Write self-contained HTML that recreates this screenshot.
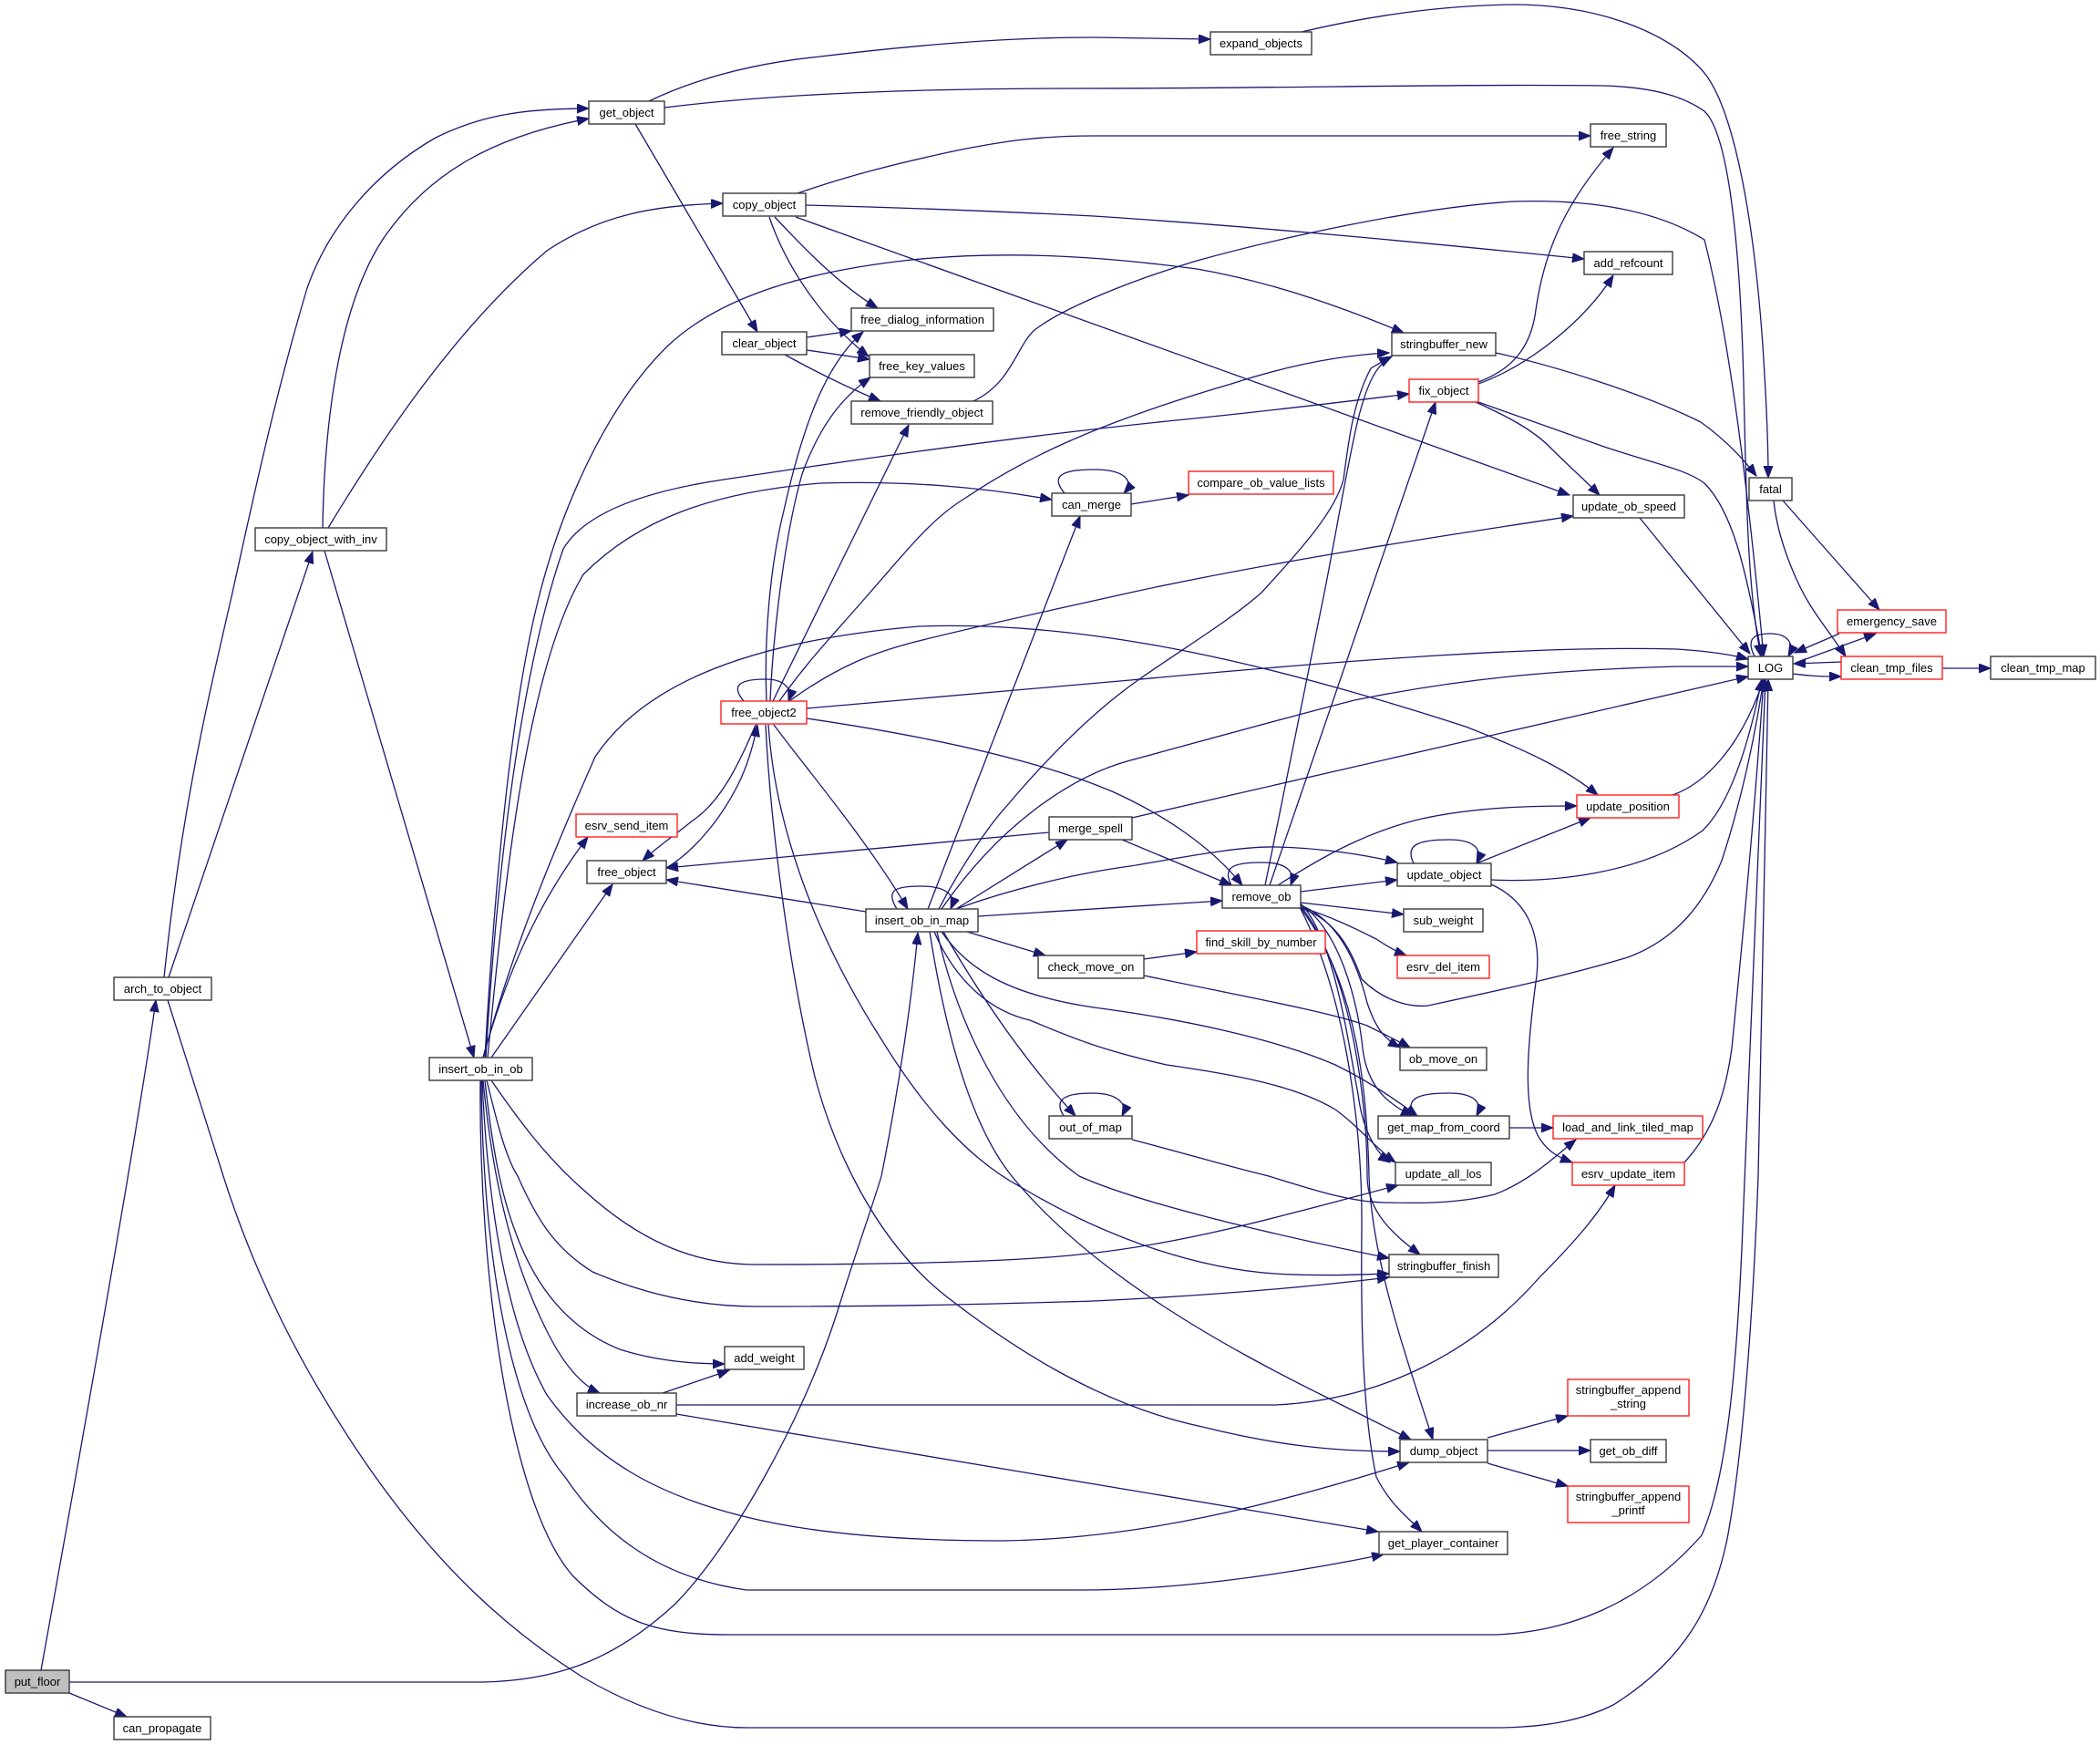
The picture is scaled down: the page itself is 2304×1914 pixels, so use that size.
<!DOCTYPE html>
<html><head><meta charset="utf-8"><style>
html,body{margin:0;padding:0;background:#fff;}
svg{display:block;}
.e path{fill:none;stroke:#191970;stroke-width:1.3;marker-end:url(#a);}
.n rect{fill:#fff;stroke:#3a3a3a;stroke-width:1.4;}
.n rect.r{stroke:#ff2020;}
.n rect.g{fill:#bfbfbf;}
.n text{font-family:"Liberation Sans",Arial,sans-serif;font-size:13px;fill:#000;text-anchor:middle;}
</style></head><body>
<svg width="2304" height="1914" viewBox="0 0 2304 1914" xmlns="http://www.w3.org/2000/svg">
<defs><marker id="a" markerWidth="14" markerHeight="11" refX="13" refY="5" orient="auto" markerUnits="userSpaceOnUse"><path d="M0,0 L13,5 L0,10 z" fill="#191970" stroke="#191970" stroke-width="1"/></marker></defs>
<rect width="2304" height="1914" fill="#fff"/>
<g class="e">
<path d="M45,1832 Q150,1250 171,1097"/>
<path d="M76,1857 L139,1883"/>
<path d="M76,1845 L530,1845 C620,1843 680,1815 740,1760 C800,1700 880,1560 918,1441 C940,1370 955,1330 967,1290 C985,1200 1000,1100 1007,1023"/>
<path d="M180,1072 C200,880 230,760 255,650 C275,560 300,440 337,316 C360,250 410,190 478,151 C530,125 580,119 646,119"/>
<path d="M185,1072 L343,605"/>
<path d="M184,1097 L245,1290 C280,1400 330,1500 398,1600 C480,1720 560,1790 640,1840 C700,1875 760,1895 820,1895 L1640,1895 C1700,1895 1740,1885 1770,1870 C1850,1820 1880,1760 1895,1688 C1915,1580 1925,1400 1929,1290 C1933,1100 1937,900 1940,745"/>
<path d="M354,579 C356,450 375,330 421,261 C470,190 540,150 646,130"/>
<path d="M360,579 C420,480 500,360 600,275 C660,235 720,225 793,223"/>
<path d="M356,604 L520,1160"/>
<path d="M712,111 C760,88 820,70 900,62 C1000,50 1100,41 1200,41 L1328,43"/>
<path d="M729,118 C850,103 1000,97 1180,97 C1400,97 1600,92 1760,94 C1820,96 1850,108 1870,122 C1900,150 1910,300 1913,420 C1916,560 1918,650 1932,720"/>
<path d="M697,136 L831,364"/>
<path d="M1428,35 C1500,18 1580,6 1660,5 C1760,5 1840,40 1873,84 C1905,130 1925,250 1934,379 C1938,440 1940,490 1940,524"/>
<path d="M875,212 C930,193 980,180 1050,165 C1100,155 1140,149 1200,149 L1745,149"/>
<path d="M884,225 C1000,228 1100,232 1200,237 C1400,250 1600,270 1738,284"/>
<path d="M873,238 L1722,543"/>
<path d="M850,238 C880,270 920,312 963,338"/>
<path d="M844,238 C860,285 895,345 953,391"/>
<path d="M885,370 L934,363"/>
<path d="M885,384 L954,394"/>
<path d="M861,389 C890,405 930,425 966,440"/>
<path d="M1068,440 C1110,420 1115,380 1135,362 C1170,335 1250,305 1313,286 C1400,262 1550,228 1660,221 C1750,218 1820,232 1870,263 C1900,380 1920,560 1935,720"/>
<path d="M1641,387 C1700,400 1800,430 1866,463 C1890,480 1910,500 1927,522"/>
<path d="M1622,419 C1660,405 1680,380 1685,340 C1695,270 1720,220 1770,162"/>
<path d="M1622,421 C1680,400 1740,350 1770,302"/>
<path d="M1619,441 C1650,455 1680,470 1700,490 C1720,510 1740,528 1755,543"/>
<path d="M1622,441 L1760,490 C1820,510 1850,515 1870,530 C1900,560 1915,620 1933,720"/>
<path d="M1799,568 L1920,717"/>
<path d="M1956,549 L2062,669"/>
<path d="M1946,549 C1950,590 1970,640 1990,670 C2005,692 2015,705 2025,720"/>
<path d="M1925,720 C1915,700 1925,695 1942,695 C1960,695 1970,705 1962,720"/>
<path d="M2018,695 L1969,716"/>
<path d="M1970,727 L2058,695"/>
<path d="M2020,726 L1968,728"/>
<path d="M1967,739 C1990,742 2000,742 2020,742"/>
<path d="M2131,733 L2184,733"/>
<path d="M1168,541 C1150,520 1170,515 1200,515 C1235,515 1245,528 1233,541"/>
<path d="M1241,553 L1304,543"/>
<path d="M532,1160 C542,980 560,780 590,660 C612,570 660,450 733,379 C780,335 860,300 1000,285 C1100,275 1200,280 1313,295 C1400,310 1480,340 1540,365"/>
<path d="M533,1160 C545,960 570,740 618,602 C640,565 700,540 794,526 C900,510 1100,480 1300,460 C1400,450 1480,440 1546,432"/>
<path d="M535,1160 C555,950 580,730 640,630 C700,570 780,540 900,530 C1000,527 1080,535 1154,548"/>
<path d="M530,1160 C560,1050 600,950 653,830 C700,760 800,705 1008,687 C1200,680 1404,731 1608,797 C1680,825 1720,845 1753,872"/>
<path d="M530,1160 C555,1070 590,990 645,918"/>
<path d="M539,1160 L672,970"/>
<path d="M539,1185 C570,1230 600,1270 640,1305 C700,1360 760,1387 830,1387 C950,1387 1100,1385 1184,1376 C1300,1365 1420,1330 1534,1300"/>
<path d="M534,1185 C545,1230 555,1270 568,1290 C590,1340 610,1370 650,1395 C720,1425 780,1433 830,1433 C1000,1433 1100,1430 1200,1427 C1350,1420 1450,1410 1524,1401"/>
<path d="M532,1185 C540,1260 550,1310 565,1350 C590,1420 630,1460 680,1480 C720,1493 760,1496 795,1496"/>
<path d="M530,1185 C540,1290 560,1380 600,1460 C620,1500 640,1520 658,1528"/>
<path d="M529,1185 C535,1320 555,1450 600,1530 C650,1600 720,1640 819,1664 C900,1684 1000,1690 1100,1690 C1250,1688 1400,1650 1546,1604"/>
<path d="M528,1185 C530,1380 560,1550 620,1620 C660,1680 720,1730 819,1744 L1184,1744 C1300,1744 1420,1725 1518,1705"/>
<path d="M527,1185 C525,1400 560,1650 628,1728 C680,1780 720,1793 800,1793 L1640,1793 C1720,1790 1800,1760 1867,1684 C1895,1620 1905,1500 1911,1370 C1920,1150 1930,900 1937,745"/>
<path d="M727,1528 L800,1503"/>
<path d="M742,1541 L1400,1541 C1520,1535 1620,1480 1690,1400 C1730,1360 1755,1330 1772,1300"/>
<path d="M742,1551 L1512,1680"/>
<path d="M829,795 C810,840 790,880 760,900 C735,920 720,930 705,944"/>
<path d="M731,952 C760,935 790,900 810,860 C820,840 826,820 831,795"/>
<path d="M816,769 C800,750 815,745 840,745 C860,745 870,755 865,769"/>
<path d="M841,769 C838,700 845,620 860,560 C880,470 905,400 947,364"/>
<path d="M845,769 C848,700 860,590 880,520 C900,465 925,435 955,414"/>
<path d="M848,769 L997,466"/>
<path d="M855,769 C890,720 920,690 950,655 C990,610 1020,570 1058,547 C1120,505 1200,465 1351,421 C1400,405 1460,390 1524,387"/>
<path d="M866,769 C920,730 960,715 1008,703 C1080,685 1160,668 1240,650 C1400,615 1600,585 1726,566"/>
<path d="M885,777 L1240,746 C1500,722 1700,708 1840,712 C1870,714 1900,718 1918,723"/>
<path d="M885,788 C1000,805 1130,830 1220,868 C1280,895 1330,930 1363,971"/>
<path d="M849,795 C890,850 950,920 996,997"/>
<path d="M843,795 C850,900 890,1020 967,1140 C1010,1210 1060,1270 1120,1302 C1200,1350 1300,1390 1398,1397 C1450,1400 1490,1398 1524,1397"/>
<path d="M840,795 C845,900 865,1060 894,1181 C915,1260 960,1360 1037,1421 C1100,1470 1200,1540 1319,1565 C1400,1585 1460,1592 1536,1592"/>
<path d="M984,997 C970,975 985,972 1010,972 C1035,972 1050,980 1043,997"/>
<path d="M950,1000 L731,965"/>
<path d="M1018,997 L1185,566"/>
<path d="M1030,997 C1060,940 1090,900 1102,887 C1150,830 1200,780 1250,745 C1300,710 1350,680 1384,650 C1430,600 1465,560 1474,526 C1480,480 1485,440 1504,404 L1526,391"/>
<path d="M1033,997 C1100,900 1180,850 1240,834 C1300,818 1400,790 1486,768 C1600,745 1700,735 1840,731 L1918,731"/>
<path d="M1049,997 L1171,921"/>
<path d="M1049,997 C1110,975 1180,958 1240,950 C1300,940 1360,928 1400,929 C1450,930 1500,938 1533,946"/>
<path d="M1073,1005 L1341,988"/>
<path d="M1061,1022 L1147,1048"/>
<path d="M1033,1022 C1060,1060 1100,1090 1200,1105 C1300,1118 1400,1140 1465,1168 C1500,1185 1530,1205 1555,1224"/>
<path d="M1025,1022 C1050,1080 1090,1110 1130,1119 C1180,1140 1210,1152 1280,1168 C1350,1178 1420,1190 1465,1217 C1490,1235 1510,1260 1531,1275"/>
<path d="M1035,1022 C1080,1100 1130,1170 1180,1224"/>
<path d="M1028,1022 C1050,1120 1100,1230 1184,1290 C1250,1320 1400,1355 1524,1380"/>
<path d="M1020,1022 C1040,1150 1070,1240 1110,1290 C1200,1400 1350,1480 1450,1530 C1500,1555 1530,1570 1548,1579"/>
<path d="M1151,913 L731,952"/>
<path d="M1242,897 L1918,742"/>
<path d="M1231,921 L1351,971"/>
<path d="M1351,971 C1340,950 1355,946 1385,946 C1410,946 1422,955 1416,971"/>
<path d="M1427,978 L1533,965"/>
<path d="M1402,971 C1450,940 1500,912 1560,898 C1620,885 1680,884 1730,884"/>
<path d="M1427,990 L1540,1003"/>
<path d="M1427,995 C1460,1005 1490,1020 1510,1030 C1525,1040 1535,1045 1543,1048"/>
<path d="M1427,996 C1470,1010 1485,1050 1494,1074 C1520,1100 1550,1105 1567,1103 C1650,1085 1720,1070 1786,1050 C1840,1030 1870,990 1889,944 C1910,880 1925,810 1935,745"/>
<path d="M1427,993 C1470,1010 1490,1060 1500,1100 C1510,1130 1520,1140 1536,1149"/>
<path d="M1427,992 C1470,1020 1490,1100 1495,1150 C1500,1190 1520,1210 1550,1224"/>
<path d="M1427,991 C1465,1030 1480,1150 1490,1200 C1495,1240 1510,1265 1525,1275"/>
<path d="M1427,994 C1480,1060 1500,1200 1500,1290 C1500,1330 1530,1355 1558,1376"/>
<path d="M1427,996 C1490,1080 1500,1200 1502,1290 C1505,1380 1540,1480 1572,1579"/>
<path d="M1427,997 C1480,1100 1495,1250 1494,1350 C1493,1450 1495,1550 1510,1620 C1525,1650 1545,1665 1560,1680"/>
<path d="M1393,971 L1575,441"/>
<path d="M1388,971 L1453,650 C1465,590 1478,510 1490,460 C1500,420 1510,400 1527,391"/>
<path d="M1551,947 C1540,925 1560,921 1590,921 C1615,921 1628,930 1620,947"/>
<path d="M1620,947 L1745,897"/>
<path d="M1636,965 C1700,968 1800,960 1868,911 C1900,880 1920,810 1933,745"/>
<path d="M1636,970 C1680,990 1690,1030 1686,1070 C1675,1150 1670,1220 1690,1250 C1700,1265 1712,1270 1725,1275"/>
<path d="M1835,872 C1870,860 1910,820 1935,745"/>
<path d="M1255,1052 L1313,1044"/>
<path d="M1255,1070 C1350,1090 1460,1110 1500,1125 C1520,1135 1540,1145 1547,1149"/>
<path d="M1167,1224 C1155,1205 1170,1199 1198,1199 C1225,1199 1238,1210 1231,1224"/>
<path d="M1242,1250 C1300,1265 1350,1280 1392,1290 C1440,1305 1480,1318 1518,1319 C1560,1320 1600,1320 1640,1310 C1680,1295 1710,1265 1729,1250"/>
<path d="M1551,1224 C1540,1203 1560,1199 1590,1199 C1615,1199 1628,1208 1620,1224"/>
<path d="M1656,1237 L1704,1237"/>
<path d="M1848,1275 C1880,1240 1893,1200 1900,1150 C1915,1000 1928,850 1935,745"/>
<path d="M1632,1577 L1720,1553"/>
<path d="M1632,1591 L1745,1591"/>
<path d="M1632,1605 L1720,1630"/>
</g>
<g class="n">
<rect class="g" x="6" y="1832" width="70" height="25"/><text x="41" y="1849">put_floor</text>
<rect x="125" y="1883" width="106" height="25"/><text x="178" y="1900">can_propagate</text>
<rect x="125" y="1072" width="107" height="25"/><text x="178.5" y="1089">arch_to_object</text>
<rect x="280" y="579" width="144" height="25"/><text x="352" y="596">copy_object_with_inv</text>
<rect x="646" y="111" width="83" height="25"/><text x="687.5" y="128">get_object</text>
<rect x="793" y="212" width="91" height="25"/><text x="838.5" y="229">copy_object</text>
<rect x="792" y="364" width="93" height="25"/><text x="838.5" y="381">clear_object</text>
<rect x="934" y="338" width="156" height="25"/><text x="1012" y="355">free_dialog_information</text>
<rect x="954" y="389" width="115" height="25"/><text x="1011.5" y="406">free_key_values</text>
<rect x="934" y="440" width="155" height="25"/><text x="1011.5" y="457">remove_friendly_object</text>
<rect x="1328" y="35" width="111" height="25"/><text x="1383.5" y="52">expand_objects</text>
<rect x="1745" y="136" width="83" height="25"/><text x="1786.5" y="153">free_string</text>
<rect x="1738" y="276" width="97" height="25"/><text x="1786.5" y="293">add_refcount</text>
<rect x="1527" y="365" width="114" height="25"/><text x="1584" y="382">stringbuffer_new</text>
<rect class="r" x="1546" y="416" width="76" height="25"/><text x="1584" y="433">fix_object</text>
<rect x="1154" y="541" width="87" height="25"/><text x="1197.5" y="558">can_merge</text>
<rect class="r" x="1304" y="517" width="159" height="25"/><text x="1383.5" y="534">compare_ob_value_lists</text>
<rect x="1726" y="543" width="122" height="25"/><text x="1787" y="560">update_ob_speed</text>
<rect x="1919" y="524" width="47" height="25"/><text x="1942.5" y="541">fatal</text>
<rect x="1918" y="720" width="49" height="25"/><text x="1942.5" y="737">LOG</text>
<rect class="r" x="2016" y="669" width="119" height="25"/><text x="2075.5" y="686">emergency_save</text>
<rect class="r" x="2020" y="720" width="111" height="25"/><text x="2075.5" y="737">clean_tmp_files</text>
<rect x="2184" y="720" width="115" height="25"/><text x="2241.5" y="737">clean_tmp_map</text>
<rect class="r" x="791" y="769" width="94" height="25"/><text x="838" y="786">free_object2</text>
<rect class="r" x="632" y="893" width="111" height="25"/><text x="687.5" y="910">esrv_send_item</text>
<rect x="644" y="944" width="87" height="25"/><text x="687.5" y="961">free_object</text>
<rect x="471" y="1160" width="113" height="25"/><text x="527.5" y="1177">insert_ob_in_ob</text>
<rect x="950" y="997" width="123" height="25"/><text x="1011.5" y="1014">insert_ob_in_map</text>
<rect x="1151" y="896" width="91" height="25"/><text x="1196.5" y="913">merge_spell</text>
<rect x="1139" y="1048" width="116" height="25"/><text x="1197" y="1065">check_move_on</text>
<rect x="1151" y="1224" width="91" height="25"/><text x="1196.5" y="1241">out_of_map</text>
<rect x="1341" y="971" width="86" height="25"/><text x="1384" y="988">remove_ob</text>
<rect x="1533" y="947" width="103" height="25"/><text x="1584.5" y="964">update_object</text>
<rect x="1540" y="997" width="87" height="25"/><text x="1583.5" y="1014">sub_weight</text>
<rect class="r" x="1533" y="1048" width="101" height="25"/><text x="1583.5" y="1065">esrv_del_item</text>
<rect class="r" x="1313" y="1021" width="141" height="25"/><text x="1383.5" y="1038">find_skill_by_number</text>
<rect class="r" x="1730" y="872" width="112" height="25"/><text x="1786" y="889">update_position</text>
<rect x="1536" y="1149" width="95" height="25"/><text x="1583.5" y="1166">ob_move_on</text>
<rect x="1512" y="1224" width="144" height="25"/><text x="1584" y="1241">get_map_from_coord</text>
<rect x="1531" y="1275" width="105" height="25"/><text x="1583.5" y="1292">update_all_los</text>
<rect class="r" x="1704" y="1224" width="164" height="25"/><text x="1786" y="1241">load_and_link_tiled_map</text>
<rect class="r" x="1725" y="1275" width="123" height="25"/><text x="1786.5" y="1292">esrv_update_item</text>
<rect x="1524" y="1376" width="120" height="25"/><text x="1584" y="1393">stringbuffer_finish</text>
<rect x="1536" y="1579" width="96" height="25"/><text x="1584" y="1596">dump_object</text>
<rect x="1513" y="1680" width="141" height="25"/><text x="1583.5" y="1697">get_player_container</text>
<rect class="r" x="1720" y="1513" width="133" height="40"/><text x="1786.5" y="1529">stringbuffer_append</text><text x="1786.5" y="1544">_string</text>
<rect x="1745" y="1579" width="83" height="25"/><text x="1786.5" y="1596">get_ob_diff</text>
<rect class="r" x="1720" y="1630" width="133" height="40"/><text x="1786.5" y="1646">stringbuffer_append</text><text x="1786.5" y="1661">_printf</text>
<rect x="795" y="1477" width="87" height="25"/><text x="838.5" y="1494">add_weight</text>
<rect x="633" y="1528" width="109" height="25"/><text x="687.5" y="1545">increase_ob_nr</text>
</g>
</svg>
</body></html>
